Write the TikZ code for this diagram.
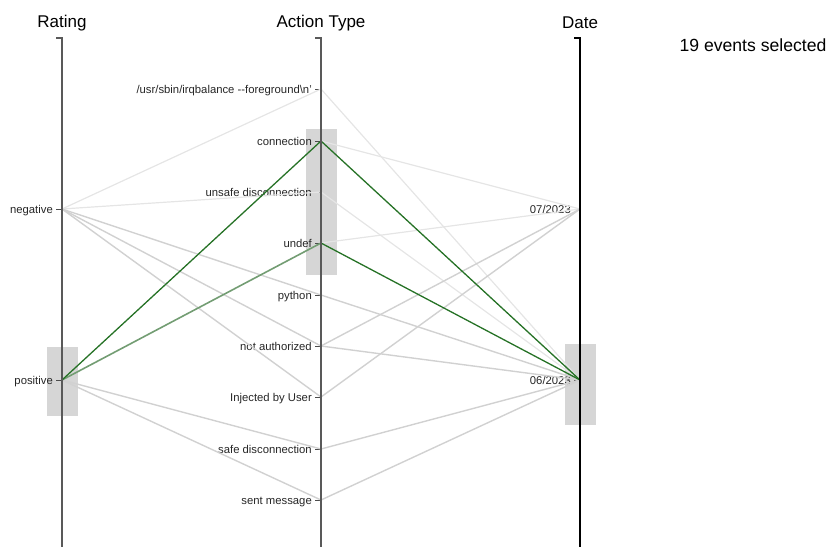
\documentclass[tikz,border=0pt]{standalone}
\usepackage{fontspec}
\setmainfont{Liberation Sans}
\begin{document}
\begin{tikzpicture}[x=1pt,y=-1pt,
  axisline/.style={draw=#1,line width=1.3pt},
  axisline/.default={black!65},
  tickmark/.style={draw=black!70,line width=1pt},
  ticklabel/.style={anchor=mid east,inner sep=0pt,font=\fontsize{11.3}{13}\selectfont,text=black!85},
  title/.style={inner sep=0pt,font=\fontsize{17}{20}\selectfont},
  brushbox/.style={fill=black!16,draw=white,line width=0.8pt},
  faint/.style={draw=black!10,line width=1.2pt},
  dim/.style={draw=black!18,line width=1.4pt},
  sel/.style={draw=green!35!black!85,line width=1.3pt},
  selsoft/.style={draw=green!30!black!55,line width=1.6pt}]
\useasboundingbox (0,0) rectangle (830,547);

% axis positions
\def\xa{62}\def\xb{321}\def\xc{580}

% titles
\node[title] (tRating) at (\xa,23) {Rating};
\node[title] (tAction) at (\xb,23) {Action Type};
\node[title] (tDate) at (\xc,23) {Date};
\node[title,font=\fontsize{17.6}{20}\selectfont] (count) at (753,45) {19 events selected};

% category positions
\coordinate (neg) at (\xa,209);
\coordinate (pos) at (\xa,380);
\coordinate (usr) at (\xb,89);
\coordinate (conn) at (\xb,141);
\coordinate (unsafe) at (\xb,192);
\coordinate (undef) at (\xb,243);
\coordinate (python) at (\xb,295);
\coordinate (notauth) at (\xb,346);
\coordinate (inject) at (\xb,397);
\coordinate (safe) at (\xb,449);
\coordinate (sent) at (\xb,500);
\coordinate (jul) at (\xc,209);
\coordinate (jun) at (\xc,380);

% brushes
\path[brushbox] (46,346) rectangle (78,416);
\path[brushbox] (305,128) rectangle (337,275);
\path[brushbox] (564,343) rectangle (596,425);

% tick labels and marks
\foreach \p/\t in {neg/negative,pos/positive,usr/{/usr/sbin/irqbalance {-}{-}foreground\textbackslash n'},
  conn/connection,unsafe/unsafe disconnection,undef/undef,python/python,notauth/not authorized,
  inject/Injected by User,safe/safe disconnection,sent/sent message,jul/{07/2023},jun/{06/2023}}{
  \draw[tickmark] ([xshift=-6pt]\p) -- (\p);
  \node[ticklabel] (lbl-\p) at ([xshift=-9pt,yshift=-1.5pt]\p) {\t};
}

% unselected polylines
\draw[faint] (neg) -- (usr) -- (jun);
\draw[faint] (neg) -- (unsafe) -- (jun);
\draw[faint] (conn) -- (jul);
\draw[faint] (undef) -- (jul);
\draw[dim] (neg) -- (python) -- (jun);
\draw[dim] (neg) -- (notauth) -- (jul);
\draw[dim] (notauth) -- (jun);
\draw[dim] (neg) -- (inject) -- (jul);
\draw[dim] (pos) -- (safe) -- (jun);
\draw[dim] (pos) -- (sent) -- (jun);

% selected polylines
\draw[selsoft] (pos) -- (undef);
\draw[sel] (undef) -- (jun);
\draw[sel] (pos) -- (conn) -- (jun);

% axes
\draw[axisline] (\xa-6,38) -- (\xa,38) -- (\xa,547);
\draw[axisline] (\xb-6,38) -- (\xb,38) -- (\xb,547);
\draw[axisline=black] (\xc-6,38) -- (\xc,38) -- (\xc,547);
\end{tikzpicture}
\end{document}
